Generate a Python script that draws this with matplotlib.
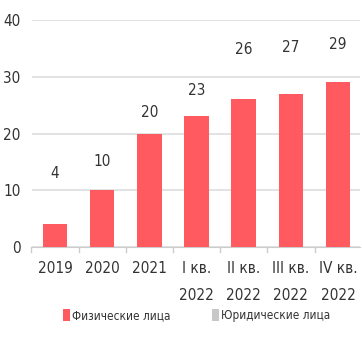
import matplotlib.pyplot as plt
from matplotlib.patches import Patch

plt.rcParams['font.family'] = ['DejaVu Sans']
plt.rcParams['font.stretch'] = 'condensed'

# Данные по периодам
periods = ['2019', '2020', '2021', 'I кв.\n2022', 'II кв.\n2022', 'III кв.\n2022', 'IV кв.\n2022']
individuals = [4, 10, 20, 23, 26, 27, 29]
label_offsets = [43, 21, 14, 18, 42, 39, 30]

RED = '#ff5a5f'
GREY = '#c8c8c8'
TEXT = '#333333'

fig = plt.figure(figsize=(3.62, 3.5), dpi=100)
ax = fig.add_axes([0.088, 0.294, 0.906, 0.649])

x = range(len(periods))
bars = ax.bar(x, individuals, width=0.52, color=RED, zorder=3)

for xi, v, off in zip(x, individuals, label_offsets):
    ax.annotate(str(v), (xi, v), xytext=(0, off), textcoords='offset pixels',
                ha='center', va='bottom', fontsize=11, color=TEXT)

ax.set_ylim(0, 40)
ax.set_xlim(-0.49, 6.46)
ax.set_yticks([0, 10, 20, 30, 40])
ax.grid(axis='y', color='#dddddd', linewidth=1.2, zorder=0)
ax.tick_params(axis='y', length=0, labelsize=11, labelcolor=TEXT, pad=8)

# подписи категорий и засечки между столбцами
ax.set_xticks(list(x))
ax.set_xticklabels(periods, fontsize=11, color=TEXT, linespacing=2.0)
ax.tick_params(axis='x', length=0, pad=10)
for b in [i - 0.5 for i in range(len(periods))]:
    ax.plot([b, b], [0, -0.9], color='#cccccc', lw=1, clip_on=False)

for s in ['top', 'right', 'left']:
    ax.spines[s].set_visible(False)
ax.spines['bottom'].set_color('#cccccc')

handles = [Patch(facecolor=RED, label='Физические лица'),
           Patch(facecolor=GREY, label='Юридические лица')]
fig.legend(handles=handles, loc='lower center', bbox_to_anchor=(0.543, 0.05),
           ncol=2, frameon=False, fontsize=8.5, handlelength=0.6, handleheight=1.2,
           handletextpad=0.2, columnspacing=3.5, labelcolor=TEXT)

fig.savefig('out.png', dpi=100)
